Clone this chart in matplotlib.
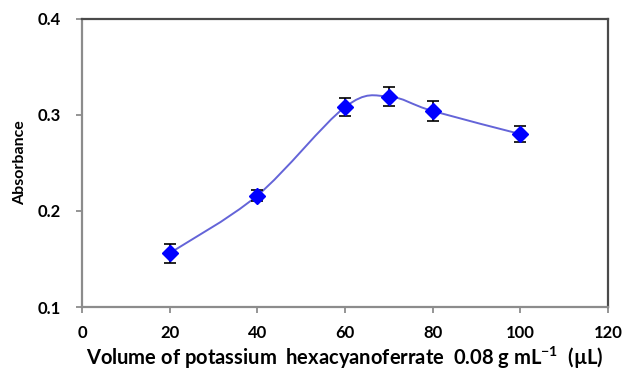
import numpy as np
import matplotlib
matplotlib.use('Agg')
import matplotlib.pyplot as plt
from matplotlib.path import Path
from matplotlib.patches import PathPatch

plt.rcParams['font.family'] = ['Lato', 'DejaVu Sans']
plt.rcParams['mathtext.fontset'] = 'custom'
plt.rcParams['mathtext.rm'] = 'Lato'
plt.rcParams['mathtext.bf'] = 'Lato:bold'

# Absorbance vs. volume of reagent
volume = [20, 40, 60, 70, 80, 100]
absorbance = [0.156, 0.216, 0.308, 0.319, 0.304, 0.280]
abs_err = [0.010, 0.006, 0.009, 0.010, 0.010, 0.008]

x_ticks = [0, 20, 40, 60, 80, 100, 120]
y_ticks = [0.1, 0.2, 0.3, 0.4]


def smooth_path(xs, ys):
    # Bezier segments through the points, spreadsheet-style smoothed line
    p = np.column_stack([xs, ys])
    n = len(p)
    verts = [p[0]]
    codes = [Path.MOVETO]
    for i in range(n - 1):
        p0 = p[i - 1] if i > 0 else p[i]
        p1 = p[i]
        p2 = p[i + 1]
        p3 = p[i + 2] if i + 2 < n else p[i + 1]
        c1 = p1 + (p2 - p0) / 6.0
        c2 = p2 - (p3 - p1) / 6.0
        verts += [c1, c2, p2]
        codes += [Path.CURVE4] * 3
    return Path(verts, codes)


fig = plt.figure(figsize=(6.26, 3.71), dpi=100)
ax = fig.add_axes([0.131, 0.1725, 0.84, 0.777])

ax.add_patch(PathPatch(smooth_path(volume, absorbance), facecolor='none',
                       edgecolor='#6464d8', linewidth=1.4, zorder=2))
ax.errorbar(volume, absorbance, yerr=abs_err, fmt='D', color='#0000ff',
            markersize=8.5, ecolor='black', elinewidth=1.2, capsize=4,
            capthick=1.2, zorder=3)

ax.set_xlim(0, 120)
ax.set_ylim(0.1, 0.4)
ax.set_xticks(x_ticks)
ax.set_yticks(y_ticks)
ax.set_yticklabels(['%.1f' % v for v in y_ticks])

for side in ['left', 'bottom']:
    ax.spines[side].set_color('#8c8c8c')
    ax.spines[side].set_linewidth(1.6)
for side in ['top', 'right']:
    ax.spines[side].set_color('#4a4a4a')
    ax.spines[side].set_linewidth(1.6)

ax.tick_params(axis='both', direction='out', length=4, width=1.3,
               color='#8c8c8c', labelsize=12)
ax.tick_params(axis='x', pad=9)
ax.tick_params(axis='y', pad=11)
for lbl in ax.get_xticklabels() + ax.get_yticklabels():
    lbl.set_fontweight('bold')

ax.set_ylabel('Absorbance', fontsize=11.5, fontweight='bold', labelpad=8)
ax.set_xlabel(r'Volume of potassium  hexacyanoferrate  0.08 g mL$^{\mathbf{-1}}$  (µL)',
              fontsize=14.5, fontweight='bold', labelpad=3)

fig.savefig('out.png', dpi=100)
